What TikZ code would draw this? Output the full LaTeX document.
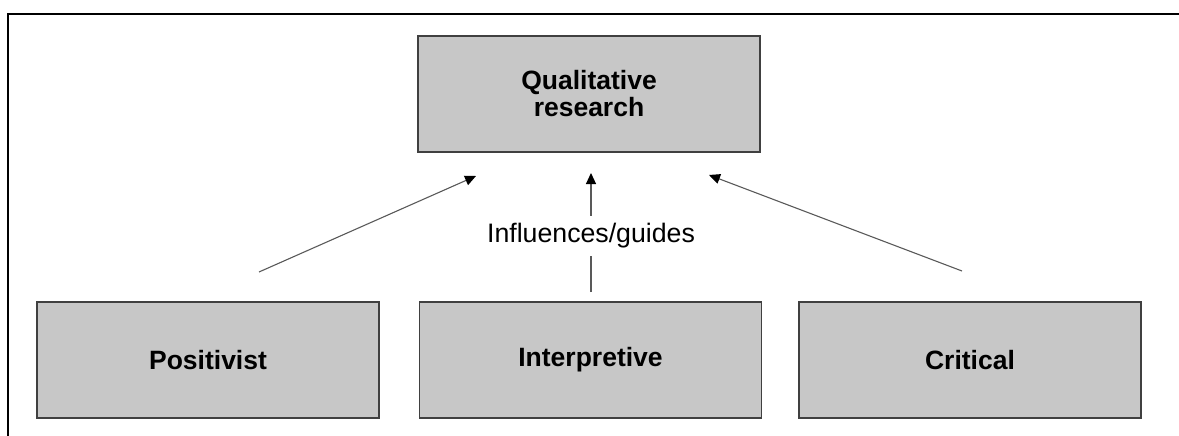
\documentclass[tikz,border=0pt]{standalone}
\usepackage{fontspec}
\setmainfont{Liberation Sans}
\usetikzlibrary{arrows.meta}
\tikzset{
	parad/.style = {draw=black!75, line width=1.2pt, fill=black!22, minimum width=342pt, minimum height=116pt, inner sep=0pt, align=center, font=\fontsize{26.5}{27}\selectfont\bfseries},
	infl/.style = {draw=black!65, line width=1.1pt},
	inflarrow/.style = {infl, -{Triangle[length=11pt,width=10pt,color=black]}}
}
\begin{document}
\begin{tikzpicture}[x=1pt,y=-1pt]
	\useasboundingbox (0,0) rectangle (1179,436);
	\draw[line width=2.5pt] (1179,14) -- (8,14) -- (8,436);
	\node[parad] (qual) at (589,94) {Qualitative\\research};
	\node[parad] (pos) at (208,360) {Positivist};
	\node[parad] (interp) at (590.5,360) {Interpretive};
	\node[parad] (crit) at (970,360) {Critical};
	\node[fill=white, inner xsep=2pt, inner ysep=7.5pt, font=\fontsize{26.7}{27}\selectfont] (guide) at (591,236) {Influences/guides};
	\coordinate (posfoot) at (259,272);
	\coordinate (posend) at (476,176);
	\coordinate (interpfoot) at (591,292);
	\coordinate (interpend) at (591,173);
	\coordinate (critfoot) at (962,271);
	\coordinate (critend) at (709,175);
	\draw[inflarrow] (posfoot) -- (posend);
	\draw[infl] (interpfoot) -- (guide);
	\draw[inflarrow] (guide) -- (interpend);
	\draw[inflarrow] (critfoot) -- (critend);
\end{tikzpicture}
\end{document}
